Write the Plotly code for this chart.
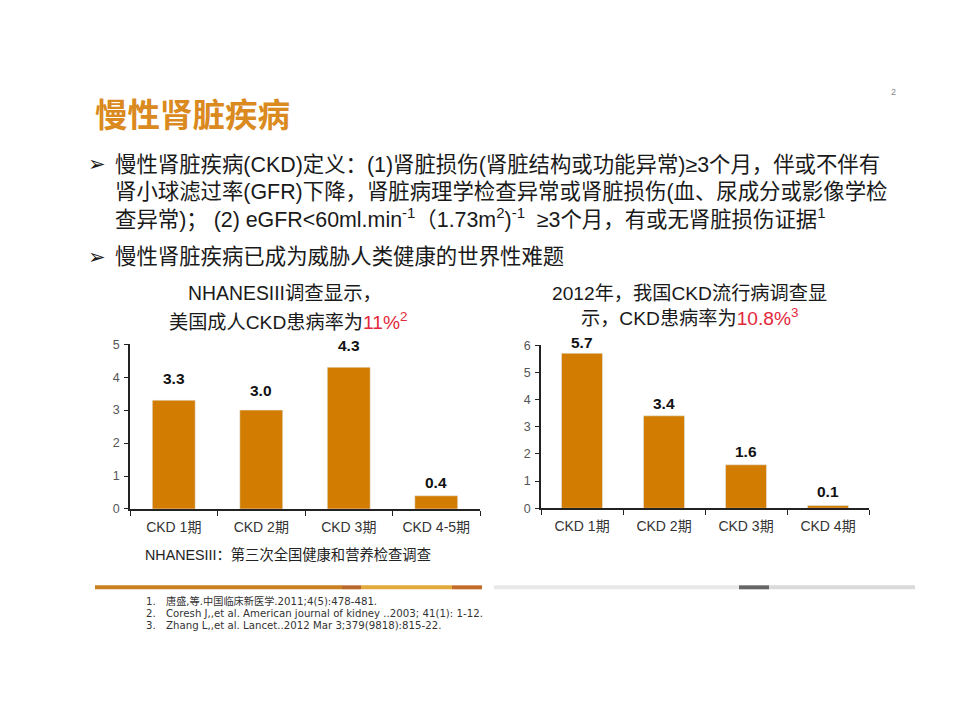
import plotly.graph_objects as go

# ---------------- data ----------------
us_categories = ["CKD 1期", "CKD 2期", "CKD 3期", "CKD 4-5期"]
us_values = [3.3, 3.0, 4.3, 0.4]
us_labels = ["3.3", "3.0", "4.3", "0.4"]

cn_categories = ["CKD 1期", "CKD 2期", "CKD 3期", "CKD 4期"]
cn_values = [5.7, 3.4, 1.6, 0.1]
cn_labels = ["5.7", "3.4", "1.6", "0.1"]

us_yticks = [0, 1, 2, 3, 4, 5]
cn_yticks = [0, 1, 2, 3, 4, 5, 6]

# styling: value-label offsets (px above bar tops)
us_label_shift = [22, 20, 22, 13]
cn_label_shift = [11, 12, 13, 14]

W, H = 960, 720
BAR = "#D27C02"
TITLE_C = "#DA8A1E"
RED = "#E3283A"
TXT = "#1a1a1a"
FONT = "Liberation Sans, Arial, Noto Sans CJK SC, sans-serif"
NOTE_FONT = "DejaVu Sans, Noto Sans CJK SC, sans-serif"

# page-pixel -> paper coordinates (compensates for page offset in the viewer)
OX, OY, SY = 8.0, 15.0, 0.98


def px(x):
    return (x - OX) / W


def py(y):
    return 1 - ((y - OY) / SY) / H


fig = go.Figure()
fig.add_trace(go.Bar(x=us_categories, y=us_values, marker_color=BAR,
                     xaxis="x", yaxis="y", width=0.49, hoverinfo="skip"))
fig.add_trace(go.Bar(x=cn_categories, y=cn_values, marker_color=BAR,
                     xaxis="x2", yaxis="y2", width=0.5, hoverinfo="skip"))

axis_common = dict(showline=True, linecolor="#222", linewidth=1.5,
                   showgrid=False, zeroline=False, fixedrange=True)

fig.update_layout(
    width=W, height=H, margin=dict(l=0, r=0, t=0, b=0),
    paper_bgcolor="white", plot_bgcolor="white", showlegend=False,
    font=dict(family=FONT, color=TXT),
    xaxis=dict(domain=[px(130), px(480)], anchor="y", type="category",
               ticks="outside", tickson="boundaries", ticklen=5, tickcolor="#222",
               tickfont=dict(size=14, color="#333"), ticklabelstandoff=4, **axis_common),
    yaxis=dict(domain=[py(508.7), py(344)], anchor="x", range=[0, 5],
               tickvals=us_yticks, ticks="outside", ticklen=4, tickcolor="#222",
               tickfont=dict(size=12.5, color="#555"), ticklabelstandoff=2, **axis_common),
    xaxis2=dict(domain=[px(541), px(869)], anchor="y2", type="category",
                ticks="outside", tickson="boundaries", ticklen=5, tickcolor="#222",
                tickfont=dict(size=14, color="#333"), ticklabelstandoff=4, **axis_common),
    yaxis2=dict(domain=[py(508), py(345)], anchor="x2", range=[0, 6],
                tickvals=cn_yticks, ticks="outside", ticklen=4, tickcolor="#222",
                tickfont=dict(size=12.5, color="#555"), ticklabelstandoff=2, **axis_common),
)

ann = []
for c, v, t, s in zip(us_categories, us_values, us_labels, us_label_shift):
    ann.append(dict(x=c, y=v, xref="x", yref="y", text=f"<b>{t}</b>", showarrow=False,
                    yanchor="middle", yshift=s, font=dict(size=15.5, color="#111")))
for c, v, t, s in zip(cn_categories, cn_values, cn_labels, cn_label_shift):
    ann.append(dict(x=c, y=v, xref="x2", yref="y2", text=f"<b>{t}</b>", showarrow=False,
                    yanchor="middle", yshift=s, font=dict(size=15.5, color="#111")))


def text(x, y, s, size, color=TXT, anchor="left", family=FONT):
    ann.append(dict(x=px(x), y=py(y), xref="paper", yref="paper", text=s, showarrow=False,
                    xanchor=anchor, yanchor="middle",
                    font=dict(size=size, color=color, family=family)))


# slide title and page number
text(93, 112, "<b>慢性肾脏疾病</b>", 32.5, TITLE_C, family="Noto Sans CJK SC, sans-serif")
text(893, 92, "2", 9, "#888", anchor="center")

# bullets
text(86, 164, "➢", 21, TXT, family="DejaVu Sans")
text(86, 257, "➢", 21, TXT, family="DejaVu Sans")
text(113, 165, "慢性肾脏疾病(CKD)定义：(1)肾脏损伤(肾脏结构或功能异常)≥3个月，伴或不伴有", 21.4)
text(113, 192, "肾小球滤过率(GFR)下降，肾脏病理学检查异常或肾脏损伤(血、尿成分或影像学检", 21.4)
text(113, 218, "查异常)； (2) eGFR&lt;60ml.min<sup>-1</sup>（1.73m<sup>2</sup>)<sup>-1</sup>  ≥3个月，有或无肾脏损伤证据<sup>1</sup>", 21.4)
text(113, 257, "慢性肾脏疾病已成为威胁人类健康的世界性难题", 21.4)

# chart titles
text(284.5, 293, "NHANESIII调查显示，", 19.4, anchor="center")
text(287.5, 321, f"美国成人CKD患病率为<span style='color:{RED}'>11%<sup>2</sup></span>", 19.2, anchor="center")
text(689, 293, "2012年，我国CKD流行病调查显", 19.2, anchor="center")
text(690, 317, f"示，CKD患病率为<span style='color:{RED}'>10.8%<sup>3</sup></span>", 19.2, anchor="center")

# note under left chart
text(143, 554, "NHANESIII：第三次全国健康和营养检查调查", 14.3, "#222")

# footnotes
refs = ["唐盛,等.中国临床新医学.2011;4(5):478-481.",
        "Coresh J,,et al. American journal of kidney ..2003; 41(1): 1-12.",
        "Zhang L,,et al. Lancet..2012 Mar 3;379(9818):815-22."]
for i, (r, yy) in enumerate(zip(refs, [601, 613, 625])):
    text(144, yy, f"{i + 1}.", 10.2, "#333", family=NOTE_FONT)
    text(164, yy, r, 10.2, "#333", family=NOTE_FONT)

fig.update_layout(annotations=ann)

# decorative divider bars
segs = [(95, 342, "#C98020"), (342, 361, "#B9672C"), (361, 452, "#E2AA3C"), (452, 482, "#C26B2A"),
        (494, 739, "#E8E8E8"), (739, 769, "#666666"), (769, 915, "#DADADA")]
shapes = []
for x0, x1, c in segs:
    shapes.append(dict(type="rect", xref="paper", yref="paper", x0=px(x0), x1=px(x1),
                       y0=py(589), y1=py(585), fillcolor=c, line=dict(width=0), layer="below"))
fig.update_layout(shapes=shapes)

fig.write_html("out.html")
